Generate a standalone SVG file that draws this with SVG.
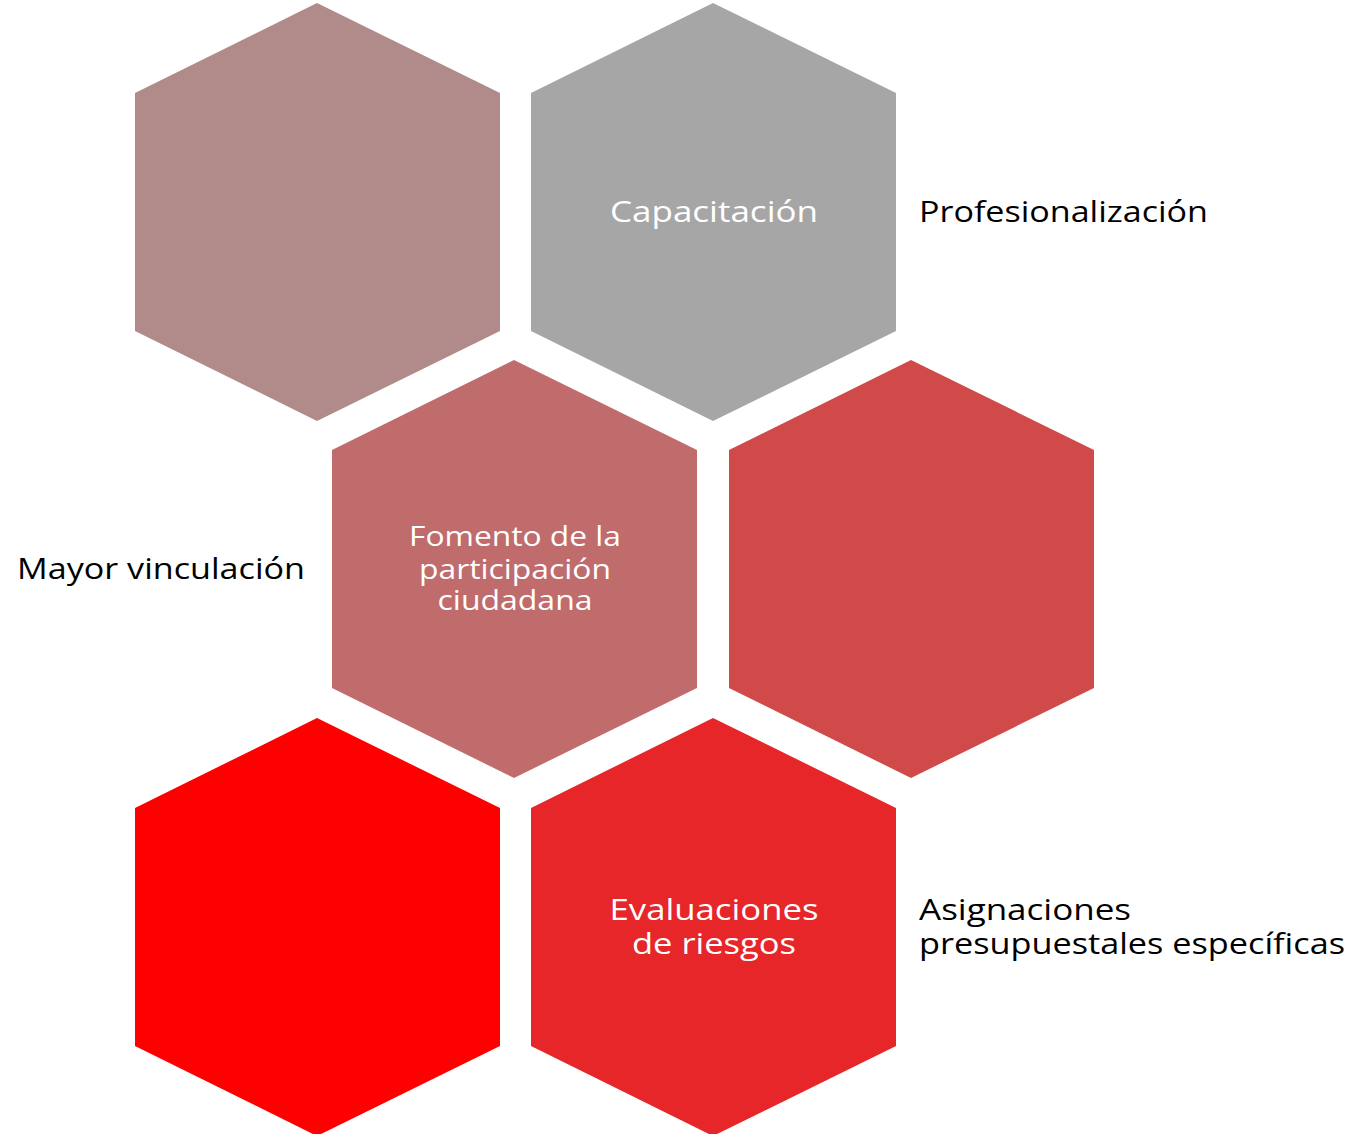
<svg xmlns="http://www.w3.org/2000/svg" width="1355" height="1134" viewBox="0 0 1355 1134">
  <style>
    .lbl { font-family: "Open Sans", "Liberation Sans", sans-serif; font-size: 30px; }
    .in { fill: #ffffff; text-anchor: middle; }
    .out { fill: #000000; }
    .sm { font-size: 28px; }
  </style>
  <rect x="0" y="0" width="1355" height="1134" fill="#ffffff"/>
  <g id="hex-1">
    <polygon points="317,3 500,93 500,331 317,421 135,331 135,93" fill="#B08B89"/>
  </g>
  <g id="hex-capacitacion">
    <polygon points="713,3 896,93 896,331 713,421 531,331 531,93" fill="#A6A6A6"/>
    <text class="lbl in" x="714" y="222" textLength="208" lengthAdjust="spacingAndGlyphs">Capacitación</text>
  </g>
  <g id="label-profesionalizacion">
    <text class="lbl out" x="919" y="222" textLength="289" lengthAdjust="spacingAndGlyphs">Profesionalización</text>
  </g>
  <g id="hex-fomento">
    <polygon points="514,360 697,450 697,688 514,778 332,688 332,450" fill="#C06C6C"/>
    <text class="lbl in sm" x="515" y="546" textLength="212" lengthAdjust="spacingAndGlyphs">Fomento de la</text>
    <text class="lbl in sm" x="515" y="579" textLength="192" lengthAdjust="spacingAndGlyphs">participación</text>
    <text class="lbl in sm" x="515" y="610" textLength="155" lengthAdjust="spacingAndGlyphs">ciudadana</text>
  </g>
  <g id="label-mayor-vinculacion">
    <text class="lbl out" x="17" y="579" textLength="288" lengthAdjust="spacingAndGlyphs">Mayor vinculación</text>
  </g>
  <g id="hex-4">
    <polygon points="911,360 1094,450 1094,688 911,778 729,688 729,450" fill="#D04A4A"/>
  </g>
  <g id="hex-5">
    <polygon points="317,718 500,808 500,1046 317,1136 135,1046 135,808" fill="#FF0000"/>
  </g>
  <g id="hex-evaluaciones">
    <polygon points="713,718 896,808 896,1046 713,1136 531,1046 531,808" fill="#E62628"/>
    <text class="lbl in" x="714" y="920" textLength="209" lengthAdjust="spacingAndGlyphs">Evaluaciones</text>
    <text class="lbl in" x="714" y="954" textLength="164" lengthAdjust="spacingAndGlyphs">de riesgos</text>
  </g>
  <g id="label-asignaciones">
    <text class="lbl out" x="919" y="920" textLength="212" lengthAdjust="spacingAndGlyphs">Asignaciones</text>
    <text class="lbl out" x="919" y="954" textLength="426" lengthAdjust="spacingAndGlyphs">presupuestales específicas</text>
  </g>
  <g id="connectors"></g>
</svg>
